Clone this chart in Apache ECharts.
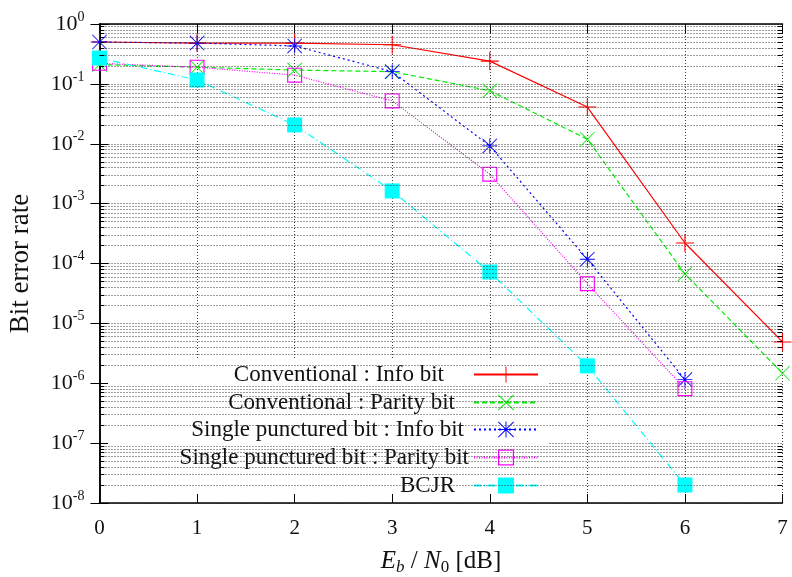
<!DOCTYPE html>
<html>
<head>
<meta charset="utf-8">
<script src="https://cdn.jsdelivr.net/npm/echarts@6/dist/echarts.min.js"></script>
<style>html,body{margin:0;padding:0;background:#fff}#c{width:792px;height:577px}</style>
</head>
<body>
<div id="c"></div>
<script>
// ---- data ----
const xVals = [0, 1, 2, 3, 4, 5, 6, 7];
const convInfo   = [0.50, 0.48, 0.48, 0.45, 0.24, 0.041, 2.2e-4, 4.9e-6];
const convParity = [0.21, 0.19, 0.17, 0.16, 0.077, 0.0119, 6.7e-5, 1.47e-6];
const spInfo     = [0.50, 0.48, 0.43, 0.16, 0.0092, 1.18e-4, 1.15e-6];
const spParity   = [0.22, 0.19, 0.14, 0.052, 0.0031, 4.6e-5, 8.1e-7];
const bcjr       = [0.27, 0.116, 0.0206, 1.63e-3, 7.2e-5, 1.95e-6, 2.0e-8];
const names = [
  'Conventional : Info bit',
  'Conventional : Parity bit',
  'Single punctured bit : Info bit',
  'Single punctured bit : Parity bit',
  'BCJR'
];
const yMin = 1e-8, yMax = 1;

// ---- styles ----
const FONT = '"Liberation Serif", "DejaVu Serif", serif';
const TXT = '#111';
const sym = {
  plus: 'path://M9.4,0H10.6V9.4H20V10.6H10.6V20H9.4V10.6H0V9.4H9.4Z',
  cross: 'path://M0.8,0L10,9.2L19.2,0L20,0.8L10.8,10L20,19.2L19.2,20L10,10.8L0.8,20L0,19.2L9.2,10L0,0.8Z',
  star: 'path://M9.4,0H10.6V9.4H20V10.6H10.6V20H9.4V10.6H0V9.4H9.4Z M0.8,0L10,9.2L19.2,0L20,0.8L10.8,10L20,19.2L19.2,20L10,10.8L0.8,20L0,19.2L9.2,10L0,0.8Z',
  open: 'path://M0,0H20V20H0Z M1.5,1.5V18.5H18.5V1.5Z'
};
const seriesDefs = [
  {data: convInfo,   color: '#ff0000', type: 'solid',     symbol: sym.plus,  size: 18},
  {data: convParity, color: '#00ee00', type: [5, 3],      symbol: sym.cross, size: 15},
  {data: spInfo,     color: '#0000ff', type: [2, 3],      symbol: sym.star,  size: 15},
  {data: spParity,   color: '#ff00ff', type: [1, 1.5],    symbol: sym.open,  size: 15},
  {data: bcjr,       color: '#00ffff', type: [7, 3, 1, 3], symbol: 'rect',   size: 15}
];

// grid decorations (minor log grid lines and minor ticks)
const minorVals = [];
for (let e = -8; e < 0; e++) for (let m = 2; m <= 9; m++) minorVals.push(m * Math.pow(10, e));
const gridStyle = {color: '#3a3a3a', type: [1, 2], width: 1};
const tickStyle = {color: '#000', type: 'solid', width: 1};
const markData = [];
minorVals.forEach(v => {
  markData.push({yAxis: v, lineStyle: gridStyle});
  markData.push([{coord: [0, v], lineStyle: tickStyle}, {coord: [0.05, v], lineStyle: tickStyle}]);
  markData.push([{coord: [6.95, v], lineStyle: tickStyle}, {coord: [7, v], lineStyle: tickStyle}]);
});

const series = seriesDefs.map((d, i) => ({
  name: names[i],
  type: 'line',
  z: 3,
  data: d.data.map((v, j) => [xVals[j], v]),
  symbol: d.symbol,
  symbolSize: d.size,
  showSymbol: true,
  itemStyle: {color: d.color},
  lineStyle: {color: d.color, width: 1.2, type: d.type},
  emphasis: {disabled: true}
}));
series.push({
  type: 'line', z: 1, data: [], silent: true,
  markLine: {silent: true, precision: 12, symbol: ['none', 'none'], label: {show: false}, animation: false, data: markData}
});

// legends: one per entry, text right-aligned against the sample
const legendTops = [363, 391, 418, 446, 474];
const legendPad = [25, 14, 5, 0, 14];
const legends = names.map((n, i) => ({
  data: [n], selectedMode: false, orient: 'horizontal', align: 'right',
  right: 253, top: legendTops[i], padding: 0, itemGap: 0,
  itemWidth: 64, itemHeight: 20,
  textStyle: {fontFamily: FONT, fontSize: 23, color: TXT, lineHeight: 20, padding: [0, legendPad[i], 0, 0]}
}));

const chart = echarts.init(document.getElementById('c'), null, {renderer: 'canvas'});
chart.setOption({
  animation: false,
  backgroundColor: '#fff',
  grid: {left: 99.5, right: 9.5, top: 24, bottom: 74, containLabel: false, outerBoundsMode: 'none'},
  legend: legends,
  graphic: [{type: 'rect', z: 2, silent: true, shape: {x: 108, y: 358, width: 440, height: 136}, style: {fill: '#fff'}}],
  xAxis: [{
    type: 'value', min: 0, max: 7, interval: 1,
    name: '{i|E}{sb|b}{n| / }{i|N}{s0|0}{n| [dB]}', nameLocation: 'middle', nameGap: 43,
    nameTextStyle: {
      rich: {
        i: {fontFamily: FONT, fontSize: 25, fontStyle: 'italic', color: TXT, lineHeight: 30},
        n: {fontFamily: FONT, fontSize: 25, color: TXT, lineHeight: 30},
        sb: {fontFamily: FONT, fontSize: 17, fontStyle: 'italic', color: TXT, lineHeight: 17, verticalAlign: 'bottom'},
        s0: {fontFamily: FONT, fontSize: 17, color: TXT, lineHeight: 17, verticalAlign: 'bottom'}
      }
    },
    axisLine: {lineStyle: {color: '#000', width: 1.5}},
    axisTick: {inside: true, length: 9, lineStyle: {color: '#000'}},
    axisLabel: {fontFamily: FONT, fontSize: 21, color: TXT, margin: 15},
    splitLine: {show: true, lineStyle: gridStyle}
  }, {
    type: 'value', min: 0, max: 7, interval: 1, position: 'top',
    axisLine: {show: true, lineStyle: {color: '#000', width: 1.5}},
    axisTick: {show: true, inside: true, length: 9, lineStyle: {color: '#000'}},
    axisLabel: {show: false}, splitLine: {show: false}
  }],
  yAxis: [{
    type: 'log', logBase: 10, min: yMin, max: yMax, splitNumber: 8,
    name: 'Bit error rate', nameLocation: 'middle', nameGap: 65,
    nameTextStyle: {fontFamily: FONT, fontSize: 27, color: TXT},
    axisLine: {show: true, lineStyle: {color: '#000', width: 1.5}},
    axisTick: {show: true, inside: true, length: 9, lineStyle: {color: '#000'}},
    axisLabel: {
      margin: 15,
      formatter: v => '{n|10}{s|' + Math.round(Math.log10(v)) + '}',
      rich: {
        n: {fontFamily: FONT, fontSize: 22, color: TXT, lineHeight: 28},
        s: {fontFamily: FONT, fontSize: 14, color: TXT, lineHeight: 14, verticalAlign: 'top'}
      }
    },
    splitLine: {show: true, lineStyle: gridStyle}
  }, {
    type: 'log', logBase: 10, min: yMin, max: yMax, splitNumber: 8, position: 'right',
    axisLine: {show: true, lineStyle: {color: '#000', width: 1.5}},
    axisTick: {show: true, inside: true, length: 9, lineStyle: {color: '#000'}},
    axisLabel: {show: false}, splitLine: {show: false}
  }],
  series: series
});
</script>
</body>
</html>
